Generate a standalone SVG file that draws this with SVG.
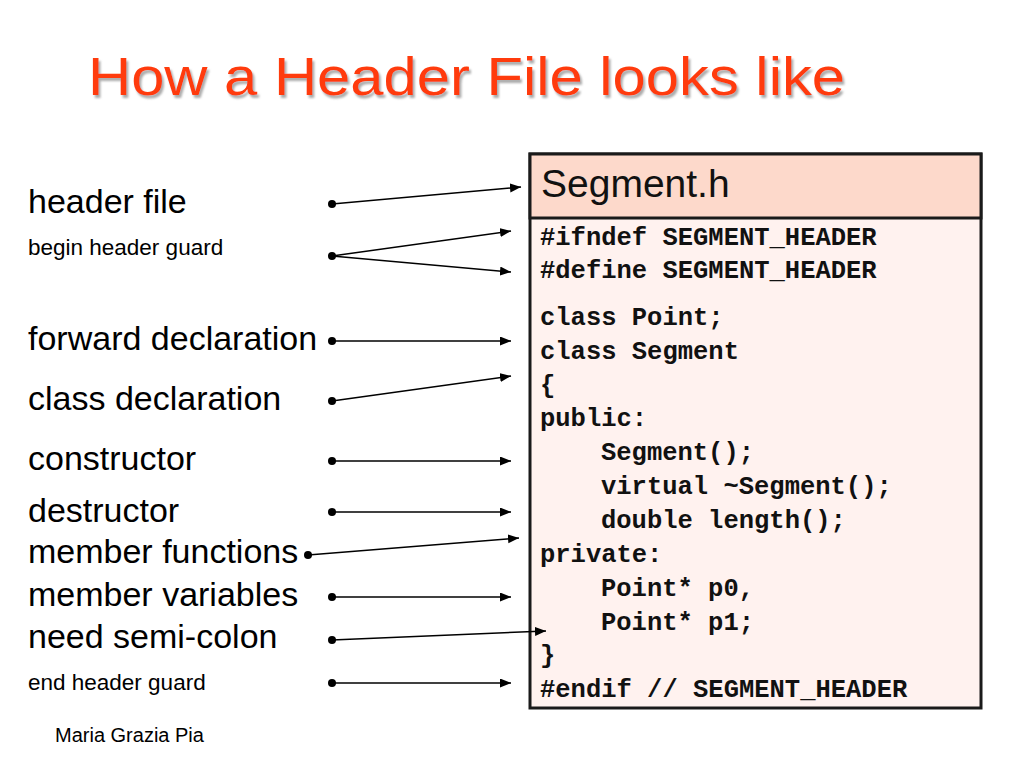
<svg xmlns="http://www.w3.org/2000/svg" width="1024" height="768" viewBox="0 0 1024 768">
<defs>
<style>
.title{font-family:"Liberation Sans","DejaVu Sans",sans-serif;font-size:54px;}
.lbl{font-family:"Liberation Sans",Arial,sans-serif;font-size:34px;fill:#000;}
.sm{font-family:"Liberation Sans",Arial,sans-serif;font-size:22.5px;fill:#000;}
.code{font-family:"Liberation Mono","Courier New",monospace;font-size:25.5px;font-weight:bold;fill:#111;}
.conn line{stroke:#000;stroke-width:1.5;marker-end:url(#ah);}
.conn circle{fill:#000;}
</style>
<filter id="shadow" x="-5%" y="-20%" width="110%" height="150%">
<feDropShadow dx="2" dy="3" stdDeviation="1" flood-color="#888" flood-opacity="0.7"/>
</filter>
<marker id="ah" markerUnits="userSpaceOnUse" markerWidth="12" markerHeight="10" refX="11" refY="4.5" orient="auto">
<path d="M0,0 L11,4.5 L0,9 z" fill="#000"/>
</marker>
</defs>
<rect width="1024" height="768" fill="#fff"/>
<g id="title">
<text class="title" x="88" y="95" fill="#ff3a0a" filter="url(#shadow)" textLength="757" lengthAdjust="spacingAndGlyphs">How a Header File looks like</text>
</g>
<g id="file-box">
<rect x="530" y="154" width="451" height="554" fill="#fff2ef" stroke="#1a1a1a" stroke-width="3"/>
<rect x="530" y="154" width="451" height="64" fill="#fdd9cb" stroke="#1a1a1a" stroke-width="3"/>
<text x="541" y="197" font-family="Liberation Sans,Arial,sans-serif" font-size="39" fill="#111">Segment.h</text>
<text class="code" x="540" y="245">#ifndef SEGMENT_HEADER</text>
<text class="code" x="540" y="278">#define SEGMENT_HEADER</text>
<text class="code" x="540" y="325">class Point;</text>
<text class="code" x="540" y="359">class Segment</text>
<text class="code" x="540" y="393">{</text>
<text class="code" x="540" y="426">public:</text>
<text class="code" x="601" y="460">Segment();</text>
<text class="code" x="601" y="494">virtual ~Segment();</text>
<text class="code" x="601" y="528">double length();</text>
<text class="code" x="540" y="562">private:</text>
<text class="code" x="601" y="596">Point* p0,</text>
<text class="code" x="601" y="630">Point* p1;</text>
<text class="code" x="540" y="663">}</text>
<text class="code" x="540" y="697">#endif // SEGMENT_HEADER</text>
</g>
<g id="labels">
<text id="l-header-file" class="lbl" x="28" y="213">header file</text>
<text id="l-begin-guard" class="sm" x="28" y="255">begin header guard</text>
<text id="l-forward" class="lbl" x="28" y="350">forward declaration</text>
<text id="l-class" class="lbl" x="28" y="410">class declaration</text>
<text id="l-ctor" class="lbl" x="28" y="470">constructor</text>
<text id="l-dtor" class="lbl" x="28" y="522">destructor</text>
<text id="l-memfn" class="lbl" x="28" y="563">member functions</text>
<text id="l-memvar" class="lbl" x="28" y="606">member variables</text>
<text id="l-semi" class="lbl" x="28" y="648">need semi-colon</text>
<text id="l-end-guard" class="sm" x="28" y="690">end header guard</text>
<text id="author" x="55" y="742" font-family="Liberation Sans,Arial,sans-serif" font-size="20" fill="#000">Maria Grazia Pia</text>
</g>
<g id="connectors" class="conn">
<circle cx="332" cy="204" r="4"/><line x1="332" y1="204" x2="521" y2="187"/>
<circle cx="332" cy="256" r="4"/><line x1="332" y1="256" x2="511" y2="231"/><line x1="332" y1="256" x2="511" y2="272"/>
<circle cx="332" cy="341" r="4"/><line x1="332" y1="341" x2="511" y2="341"/>
<circle cx="332" cy="401" r="4"/><line x1="332" y1="401" x2="511" y2="376"/>
<circle cx="332" cy="461" r="4"/><line x1="332" y1="461" x2="511" y2="461"/>
<circle cx="332" cy="512" r="4"/><line x1="332" y1="512" x2="511" y2="512"/>
<circle cx="308" cy="555" r="4"/><line x1="308" y1="555" x2="519" y2="538"/>
<circle cx="332" cy="597" r="4"/><line x1="332" y1="597" x2="511" y2="597"/>
<circle cx="332" cy="640" r="4"/><line x1="332" y1="640" x2="546" y2="631"/>
<circle cx="332" cy="683" r="4"/><line x1="332" y1="683" x2="511" y2="683"/>
</g>
</svg>
